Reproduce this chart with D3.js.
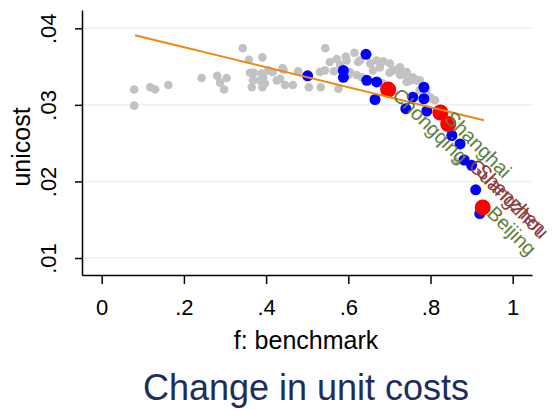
<!DOCTYPE html>
<html>
<head>
<meta charset="utf-8">
<script src="https://cdn.jsdelivr.net/npm/d3@7"></script>
<style>
  body { margin: 0; background: #fff; }
  text { font-family: "Liberation Sans", Arial, sans-serif; }
</style>
</head>
<body>
<svg id="chart"></svg>
<script>
// all cities (grey cloud)
const grayX = [0.079, 0.079, 0.118, 0.130, 0.162, 0.243, 0.281, 0.288, 0.304, 0.298,
  0.343, 0.358, 0.361, 0.370, 0.391, 0.389, 0.385, 0.368, 0.365, 0.391,
  0.405, 0.416, 0.426, 0.442, 0.446, 0.465, 0.478, 0.504, 0.531, 0.543,
  0.533, 0.544, 0.572, 0.565, 0.596, 0.615, 0.628, 0.624, 0.653, 0.669,
  0.685, 0.701, 0.677, 0.709, 0.718, 0.726, 0.742, 0.742, 0.750, 0.766,
  0.774, 0.726, 0.604, 0.620, 0.633, 0.600, 0.576, 0.684, 0.799, 0.811,
  0.803, 0.864, 0.594, 0.440, 0.393, 0.555, 0.580, 0.774, 0.434, 0.397,
  0.790, 0.757, 0.735, 0.700, 0.660];
const grayY = [0.0320, 0.0299, 0.0323, 0.0320, 0.0326, 0.0335, 0.0338, 0.0329, 0.0335, 0.0320,
  0.0374, 0.0359, 0.0342, 0.0342, 0.0362, 0.0341, 0.0332, 0.0332, 0.0323, 0.0323,
  0.0345, 0.0343, 0.0332, 0.0346, 0.0326, 0.0326, 0.0344, 0.0323, 0.0343, 0.0345,
  0.0323, 0.0374, 0.0360, 0.0344, 0.0358, 0.0368, 0.0358, 0.0356, 0.0354, 0.0358,
  0.0357, 0.0354, 0.0349, 0.0345, 0.0346, 0.0349, 0.0343, 0.0330, 0.0332, 0.0332,
  0.0332, 0.0339, 0.0343, 0.0339, 0.0336, 0.0339, 0.0321, 0.0328, 0.0310, 0.0306,
  0.0308, 0.0226, 0.0363, 0.0348, 0.0336, 0.0356, 0.0352, 0.0319, 0.0334, 0.0328,
  0.0318, 0.0336, 0.0340, 0.0342, 0.0345];

// highlighted cities
const blueX = [0.501, 0.588, 0.588, 0.643, 0.645, 0.669, 0.665, 0.740, 0.757, 0.784,
  0.784, 0.791, 0.852, 0.872, 0.882, 0.900, 0.910, 0.920];
const blueY = [0.0338, 0.0345, 0.0336, 0.0366, 0.0332, 0.0330, 0.0307, 0.0295, 0.0310, 0.0323,
  0.0308, 0.0292, 0.0260, 0.0249, 0.0228, 0.0221, 0.0189, 0.0158];

const redX = [0.697, 0.824, 0.843, 0.927];
const redY = [0.0320, 0.0290, 0.0275, 0.0166];

// labelled cities
const labelNames = ['Chongqing', 'Shanghai', 'Guangzhou', 'Shenzhen', 'Beijing'];
const labelX = [0.697, 0.824, 0.882, 0.900, 0.927];
const labelY = [0.0320, 0.0290, 0.0228, 0.0221, 0.0166];
const labelGroup = ['a', 'a', 'b', 'b', 'a'];

// linear fit
const fitX = [0.081, 0.930];
const fitY = [0.0391, 0.0280];

const xTicks = [0, 0.2, 0.4, 0.6, 0.8, 1];
const yTicks = [0.01, 0.02, 0.03, 0.04];

const WIDTH = 553;
const HEIGHT = 410;
const PLOT = {left: 82, right: 532, top: 10, bottom: 275};
const LABEL_COLORS = {a: '#5e7f3b', b: '#8c3b3b'};

const x = d3.scaleLinear().domain([-0.048, 1.047]).range([PLOT.left, PLOT.right]);
const y = d3.scaleLinear().domain([0.00778, 0.04239]).range([PLOT.bottom, PLOT.top]);

const fmt = d => d === 0 ? '0' : d === 1 ? '1' : d3.format('.2~f')(d).replace(/^0/, '');

let svg = d3.select('#chart')
    .attr('width', WIDTH)
    .attr('height', HEIGHT);

// gridlines
svg.append('g')
    .selectAll('line')
    .data(yTicks)
    .enter()
    .append('line')
    .attr('x1', PLOT.left)
    .attr('x2', PLOT.right)
    .attr('y1', d => y(d))
    .attr('y2', d => y(d))
    .attr('stroke', '#eaf2f3')
    .attr('stroke-width', 1.5);

// axes
let xAxis = svg.append('g')
    .attr('transform', `translate(0, ${PLOT.bottom})`)
    .call(d3.axisBottom(x).tickValues(xTicks).tickSize(9).tickSizeOuter(0).tickPadding(15).tickFormat(fmt));

let yAxis = svg.append('g')
    .attr('transform', `translate(${PLOT.left}, 0)`)
    .call(d3.axisLeft(y).tickValues(yTicks).tickSize(7).tickSizeOuter(0).tickFormat(fmt));

[xAxis, yAxis].forEach(a => {
    a.select('.domain').attr('stroke', '#000').attr('stroke-width', 1.5);
    a.selectAll('.tick line').attr('stroke', '#000').attr('stroke-width', 1.5);
    a.selectAll('.tick text')
        .attr('fill', '#000')
        .style('font-size', '22px')
        .style('font-family', '"Liberation Sans", Arial, sans-serif');
});

xAxis.selectAll('.tick text').attr('dy', '0.71em');

yAxis.selectAll('.tick text')
    .attr('x', null)
    .attr('dy', null)
    .attr('text-anchor', 'middle')
    .attr('transform', 'translate(-26, 0) rotate(-90)');

// axis titles
svg.append('text')
    .attr('x', 306)
    .attr('y', 349)
    .attr('text-anchor', 'middle')
    .style('font-size', '25px')
    .text('f: benchmark');

svg.append('text')
    .attr('transform', 'translate(30, 147) rotate(-90)')
    .attr('text-anchor', 'middle')
    .style('font-size', '25px')
    .text('unicost');

svg.append('text')
    .attr('x', 306)
    .attr('y', 400)
    .attr('text-anchor', 'middle')
    .attr('fill', '#1e2d5a')
    .style('font-size', '36px')
    .text('Change in unit costs');

// points
svg.append('g')
    .selectAll('circle')
    .data(grayX.map((d, i) => [d, grayY[i]]))
    .enter()
    .append('circle')
    .attr('cx', d => x(d[0]))
    .attr('cy', d => y(d[1]))
    .attr('r', 4.3)
    .attr('fill', '#c2c2c2');

svg.append('g')
    .selectAll('circle')
    .data(blueX.map((d, i) => [d, blueY[i]]))
    .enter()
    .append('circle')
    .attr('cx', d => x(d[0]))
    .attr('cy', d => y(d[1]))
    .attr('r', 5.5)
    .attr('fill', '#0000ff');

svg.append('g')
    .selectAll('circle')
    .data(redX.map((d, i) => [d, redY[i]]))
    .enter()
    .append('circle')
    .attr('cx', d => x(d[0]))
    .attr('cy', d => y(d[1]))
    .attr('r', 8)
    .attr('fill', '#ff0000');

// fit line
svg.append('path')
    .datum(fitX.map((d, i) => [d, fitY[i]]))
    .attr('d', d3.line().x(d => x(d[0])).y(d => y(d[1])))
    .attr('fill', 'none')
    .attr('stroke', '#ee8a12')
    .attr('stroke-width', 2);

// city labels
svg.append('g')
    .selectAll('text')
    .data(labelNames)
    .enter()
    .append('text')
    .attr('transform', (d, i) => `translate(${x(labelX[i]) + 8}, ${y(labelY[i]) + 2}) rotate(45)`)
    .attr('dominant-baseline', 'central')
    .attr('fill', (d, i) => LABEL_COLORS[labelGroup[i]])
    .style('font-size', '20px')
    .text(d => d);
</script>
</body>
</html>
